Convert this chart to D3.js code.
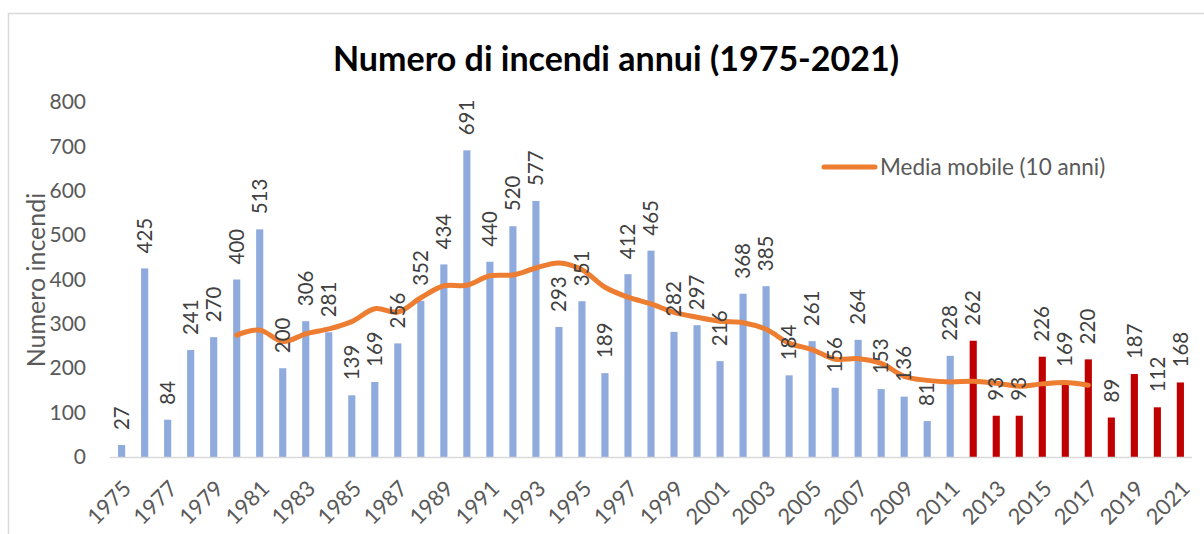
<!DOCTYPE html>
<html>
<head>
<meta charset="utf-8">
<script src="https://d3js.org/d3.v7.min.js"></script>
<style>
  body { margin: 0; background: #fff; }
  text { font-family: Lato, "Open Sans", sans-serif; }
</style>
</head>
<body>
<div id="chart"></div>
<script>
// Width and height of the canvas
var w = 1204, h = 534;

// years and number of fires
var years = [1975, 1976, 1977, 1978, 1979, 1980, 1981, 1982, 1983, 1984,
             1985, 1986, 1987, 1988, 1989, 1990, 1991, 1992, 1993, 1994,
             1995, 1996, 1997, 1998, 1999, 2000, 2001, 2002, 2003, 2004,
             2005, 2006, 2007, 2008, 2009, 2010, 2011, 2012, 2013, 2014,
             2015, 2016, 2017, 2018, 2019, 2020, 2021];
var fires = [27, 425, 84, 241, 270, 400, 513, 200, 306, 281,
             139, 169, 256, 352, 434, 691, 440, 520, 577, 293,
             351, 189, 412, 465, 282, 297, 216, 368, 385, 184,
             261, 156, 264, 153, 136, 81, 228, 262, 93, 93,
             226, 169, 220, 89, 187, 112, 168];
// years drawn in red (recent period)
var recentFrom = 2012;

// moving average (10 anni), as shown from 1980 to 2017
var maYears = [1980, 1981, 1982, 1983, 1984, 1985, 1986, 1987, 1988, 1989,
               1990, 1991, 1992, 1993, 1994, 1995, 1996, 1997, 1998, 1999,
               2000, 2001, 2002, 2003, 2004, 2005, 2006, 2007, 2008, 2009,
               2010, 2011, 2012, 2013, 2014, 2015, 2016, 2017];
var maValues = [274.7, 285.9, 260.3, 277.5, 288.6, 305.0, 334.1, 326.8, 358.8, 385.9,
                387.1, 408.3, 410.3, 425.9, 437.2, 422.0, 382.6, 360.2, 345.0, 325.8,
                314.9, 305.9, 302.6, 287.8, 256.6, 242.0, 220.4, 221.6, 211.0, 181.8,
                172.7, 169.2, 170.5, 166.1, 159.7, 164.8, 167.9, 161.9];

var yTicks = [0, 100, 200, 300, 400, 500, 600, 700, 800];
var xTickYears = years.filter(function(d) { return (d - 1975) % 2 === 0; });

var title = "Numero di incendi annui (1975-2021)";
var yTitle = "Numero incendi";
var legendLabel = "Media mobile (10 anni)";

var blue = "#8faadc", red = "#c00000", orange = "#ed7d31";
var axisGrey = "#d9d9d9", textGrey = "#595959", labelGrey = "#404040";

// Plot area
var plot = {left: 110, right: 1192, top: 102, bottom: 457};

// scales
var xScale = d3.scaleBand().domain(years).range([plot.left, plot.right]).paddingInner(0.69).paddingOuter(0.35);
var yScale = d3.scaleLinear().domain([0, 800]).range([plot.bottom, plot.top]);

var svg = d3.select("#chart").append("svg")
    .attr("width", w)
    .attr("height", h);

// chart border (top + left visible)
svg.append("path")
    .attr("d", "M8.5," + h + "V13.5H" + w)
    .attr("fill", "none")
    .attr("stroke", axisGrey)
    .attr("stroke-width", 1.5);

// title
svg.append("text")
    .attr("x", 616)
    .attr("y", 71)
    .attr("text-anchor", "middle")
    .style("font-size", "34px")
    .style("font-weight", "bold")
    .attr("fill", "#000")
    .text(title);

// y axis
var yAxis = d3.axisLeft(yScale).tickValues(yTicks).tickSize(0).tickPadding(24);
var gy = svg.append("g")
    .attr("transform", "translate(" + plot.left + ",0)")
    .call(yAxis);
gy.select(".domain").remove();
gy.selectAll("text")
    .attr("fill", textGrey)
    .style("font-size", "21px")
    .style("font-family", "Lato, sans-serif");

// y title
svg.append("text")
    .attr("transform", "translate(36,280) rotate(-90)")
    .attr("text-anchor", "middle")
    .attr("dy", "0.35em")
    .attr("fill", textGrey)
    .style("font-size", "25px")
    .text(yTitle);

// bars
var data = years.map(function(y, i) { return {year: y, value: fires[i]}; });
svg.selectAll("rect.bar")
    .data(data)
    .enter()
    .append("rect")
    .attr("class", "bar")
    .attr("x", function(d) { return xScale(d.year); })
    .attr("width", xScale.bandwidth())
    .attr("y", function(d) { return yScale(d.value); })
    .attr("height", function(d) { return plot.bottom - yScale(d.value); })
    .attr("fill", function(d) { return d.year >= recentFrom ? red : blue; });

// x axis
var xAxis = d3.axisBottom(xScale).tickValues(xTickYears).tickSize(0).tickPadding(0);
var gx = svg.append("g")
    .attr("transform", "translate(0," + plot.bottom + ")")
    .call(xAxis);
gx.select(".domain")
    .attr("d", "M" + plot.left + ",0.5H" + plot.right)
    .attr("stroke", axisGrey)
    .attr("stroke-width", 1.5);
gx.selectAll("text")
    .attr("fill", textGrey)
    .style("font-size", "22px")
    .style("font-family", "Lato, sans-serif")
    .attr("text-anchor", "end")
    .attr("dy", null)
    .attr("y", 0)
    .attr("transform", "translate(11,33) rotate(-45)");

// moving average line
var line = d3.line()
    .x(function(d, i) { return xScale(maYears[i]) + xScale.bandwidth() / 2; })
    .y(function(d) { return yScale(d); })
    .curve(d3.curveCatmullRom.alpha(0.5));

svg.append("path")
    .datum(maValues)
    .attr("d", line)
    .attr("fill", "none")
    .attr("stroke", orange)
    .attr("stroke-width", 5)
    .attr("stroke-linejoin", "round")
    .attr("stroke-linecap", "round");

// bar value labels
svg.selectAll("text.vlabel")
    .data(data)
    .enter()
    .append("text")
    .attr("class", "vlabel")
    .attr("transform", function(d) {
        var cx = xScale(d.year) + xScale.bandwidth() / 2;
        return "translate(" + cx + "," + (yScale(d.value) - 15) + ") rotate(-90)";
    })
    .attr("dy", "0.35em")
    .attr("fill", labelGrey)
    .style("font-size", "20.5px")
    .text(function(d) { return d.value; });

// legend
svg.append("line")
    .attr("x1", 824).attr("x2", 875)
    .attr("y1", 167).attr("y2", 167)
    .attr("stroke", orange)
    .attr("stroke-width", 5)
    .attr("stroke-linecap", "round");
svg.append("text")
    .attr("x", 880)
    .attr("y", 167)
    .attr("dy", "0.35em")
    .attr("fill", textGrey)
    .style("font-size", "22.5px")
    .text(legendLabel);
</script>
</body>
</html>
